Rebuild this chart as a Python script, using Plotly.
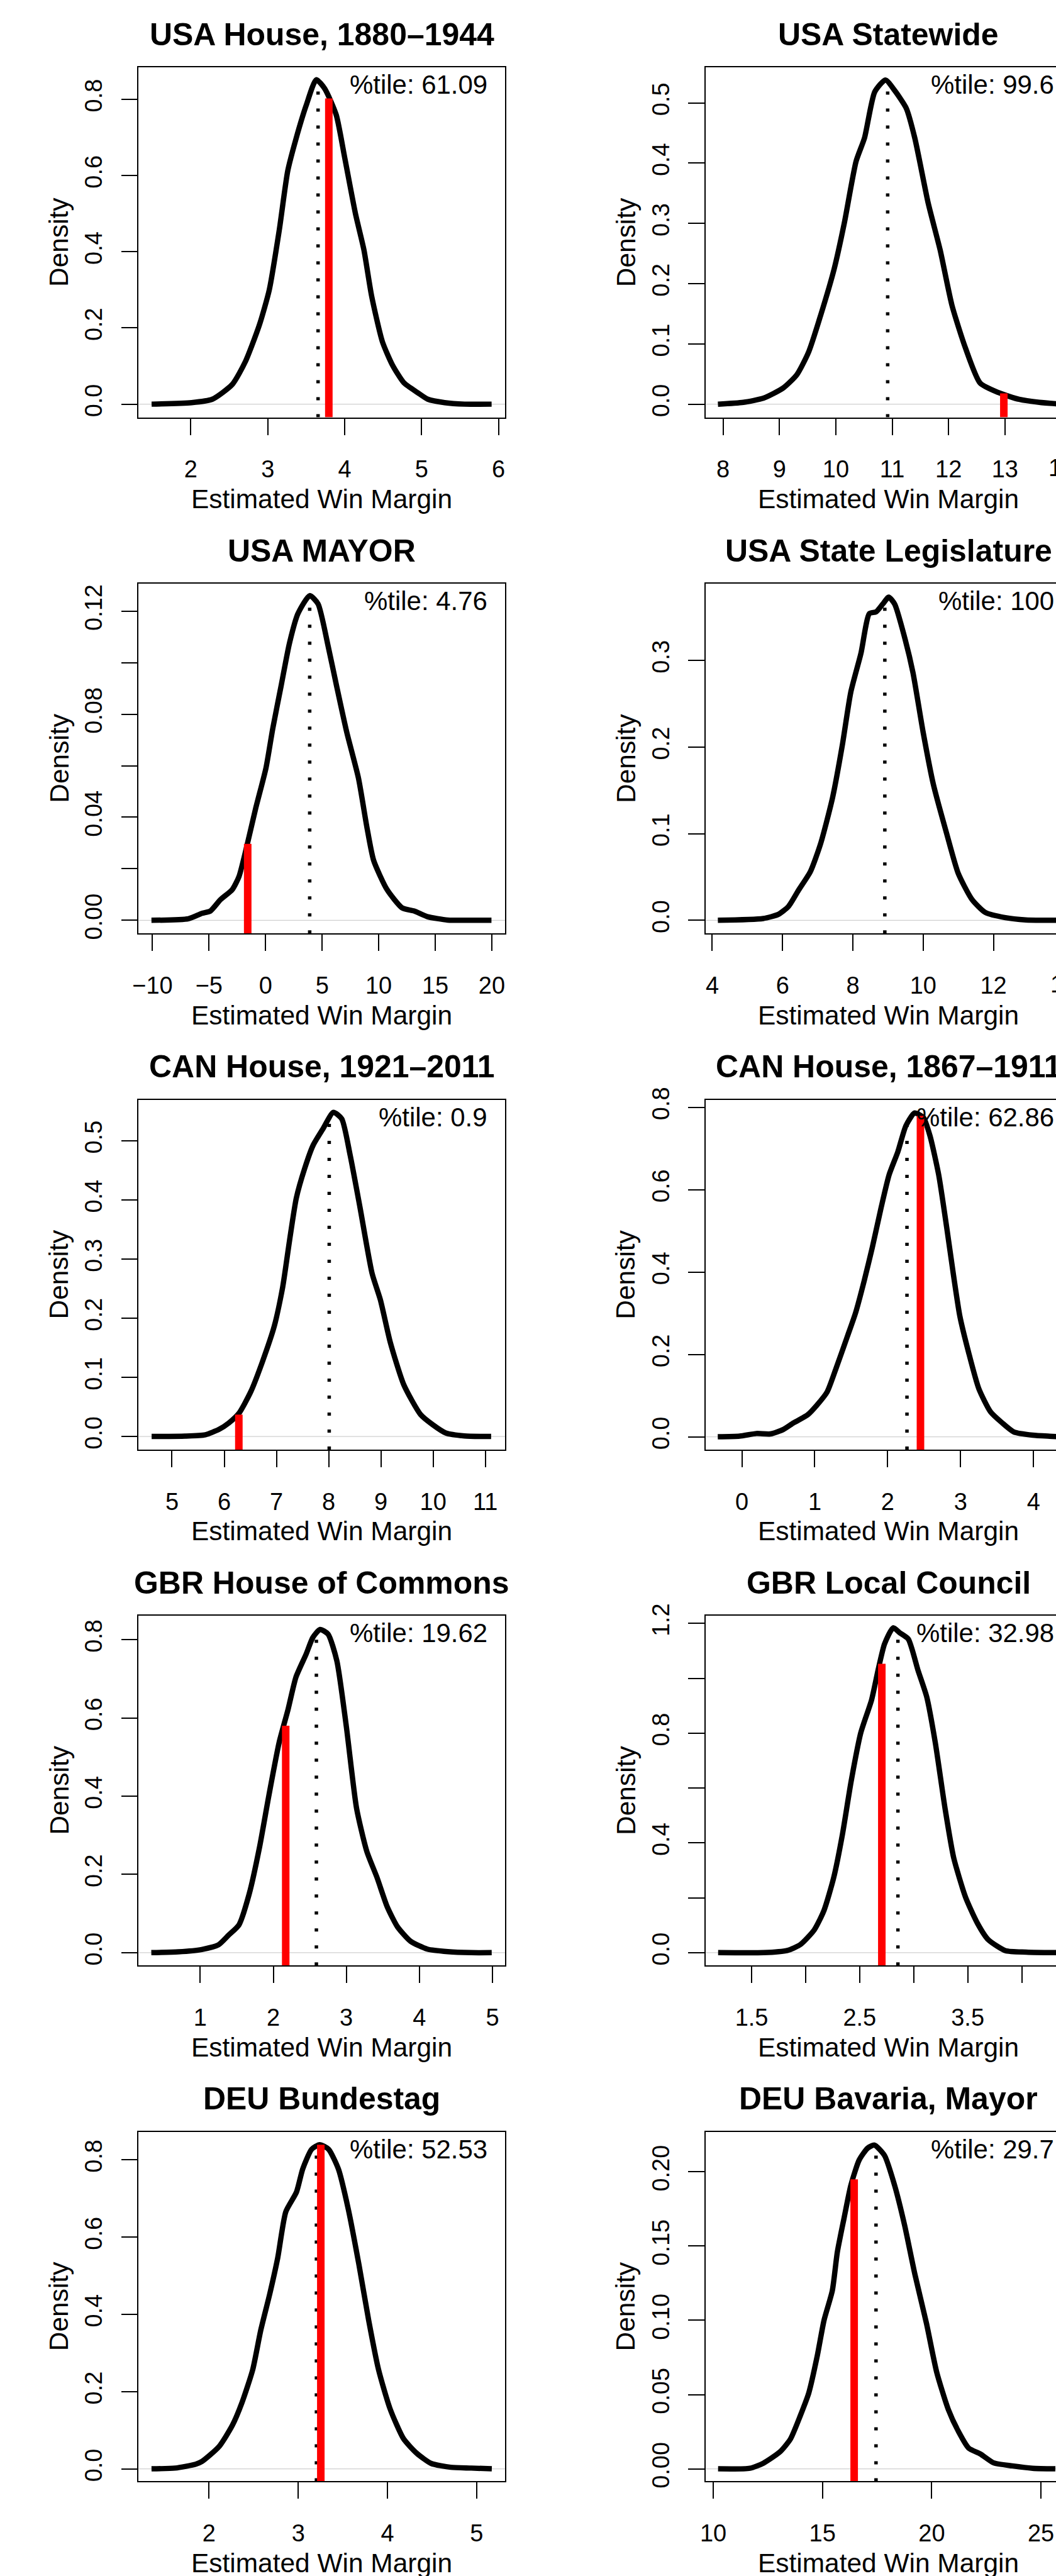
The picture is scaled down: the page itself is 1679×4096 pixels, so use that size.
import plotly.graph_objects as go

W, H = 1679, 4096
S = 0.999
FONT = "Liberation Sans, Arial, Helvetica, sans-serif"

# ---------------- data ----------------
titles = ["USA House, 1880–1944", "USA Statewide", "USA MAYOR", "USA State Legislature",
          "CAN House, 1921–2011", "CAN House, 1867–1911", "GBR House of Commons",
          "GBR Local Council", "DEU Bundestag", "DEU Bavaria, Mayor"]
pct_labels = ["61.09", "99.6", "4.76", "100", "0.9", "62.86", "19.62", "32.98", "52.53", "29.7"]

usa_house_x = [1.49, 2.01, 2.28, 2.54, 2.71, 2.89, 3.02, 3.15, 3.26, 3.37, 3.50, 3.63, 3.74, 3.89, 4.00,
               4.14, 4.25, 4.35, 4.49, 4.62, 4.77, 4.95, 5.08, 5.30, 5.56, 5.91]
usa_house_y = [0.000, 0.004, 0.013, 0.052, 0.112, 0.207, 0.300, 0.457, 0.612, 0.698, 0.784, 0.851, 0.828,
               0.759, 0.647, 0.500, 0.405, 0.284, 0.164, 0.103, 0.056, 0.030, 0.013, 0.004, 0.000, 0.000]

usa_state_x = [7.91, 8.36, 8.72, 9.07, 9.31, 9.52, 9.73, 9.97, 10.15, 10.36, 10.51, 10.69, 10.88, 11.04,
               11.25, 11.40, 11.64, 11.85, 12.06, 12.30, 12.56, 12.89, 13.25, 13.61, 13.94]
usa_state_y = [0.000, 0.003, 0.010, 0.027, 0.049, 0.087, 0.147, 0.224, 0.300, 0.403, 0.442, 0.518, 0.538,
               0.521, 0.491, 0.442, 0.333, 0.256, 0.164, 0.093, 0.035, 0.019, 0.008, 0.003, 0.0005]

usa_mayor_x = [-10.09, -6.82, -5.63, -4.88, -3.99, -2.95, -2.35, -1.61, -0.86, 0.03, 0.63, 1.37, 2.11, 2.86,
               3.90, 4.64, 5.54, 6.28, 7.17, 8.21, 8.96, 9.55, 10.74, 12.08, 13.13, 14.32, 16.10, 18.18, 19.97]
usa_mayor_y = [0, 0.0006, 0.0027, 0.0036, 0.0080, 0.0119, 0.0170, 0.0297, 0.0437, 0.0590, 0.0743, 0.0909,
               0.1075, 0.1190, 0.1260, 0.1228, 0.1062, 0.0909, 0.0731, 0.0552, 0.0361, 0.0233, 0.0119,
               0.0048, 0.0036, 0.0014, 0.0001, 0, 0]

usa_leg_x = [4.16, 5.45, 5.89, 6.17, 6.46, 6.79, 7.08, 7.42, 7.70, 7.94, 8.23, 8.47, 8.66, 8.85, 9.02, 9.19,
             9.47, 9.71, 10.00, 10.29, 10.67, 11.00, 11.39, 11.77, 12.34, 12.92, 13.40, 13.83]
usa_leg_y = [0, 0.002, 0.007, 0.016, 0.035, 0.056, 0.088, 0.141, 0.202, 0.263, 0.308, 0.354, 0.356, 0.365,
             0.373, 0.365, 0.327, 0.286, 0.217, 0.157, 0.100, 0.054, 0.024, 0.009, 0.003, 0.0004, 0, 0]

can_1921_x = [4.61, 5.25, 5.64, 5.90, 6.09, 6.28, 6.51, 6.73, 6.96, 7.12, 7.25, 7.38, 7.54, 7.70, 7.89, 8.09,
              8.25, 8.41, 8.60, 8.83, 8.99, 9.18, 9.44, 9.76, 9.99, 10.24, 10.60, 11.11]
can_1921_y = [0, 0.0006, 0.003, 0.012, 0.023, 0.039, 0.076, 0.126, 0.187, 0.253, 0.331, 0.403, 0.453, 0.492,
              0.520, 0.548, 0.537, 0.476, 0.387, 0.276, 0.231, 0.159, 0.087, 0.037, 0.020, 0.006, 0.001, 0]

can_1867_x = [-0.33, -0.03, 0.20, 0.39, 0.57, 0.71, 0.90, 1.03, 1.17, 1.29, 1.45, 1.56, 1.68, 1.79, 1.91, 2.02,
              2.14, 2.25, 2.37, 2.49, 2.58, 2.70, 2.81, 2.90, 2.99, 3.11, 3.25, 3.41, 3.57, 3.73, 3.99, 4.26, 4.34]
can_1867_y = [0, 0.0016, 0.008, 0.007, 0.018, 0.034, 0.053, 0.077, 0.109, 0.165, 0.245, 0.301, 0.380, 0.460,
              0.556, 0.636, 0.692, 0.755, 0.786, 0.775, 0.731, 0.636, 0.508, 0.396, 0.293, 0.205, 0.117, 0.061,
              0.034, 0.012, 0.004, 0.001, 0]

gbr_commons_x = [0.33, 0.70, 1.02, 1.25, 1.39, 1.53, 1.67, 1.81, 1.94, 2.08, 2.20, 2.31, 2.45, 2.54, 2.64, 2.75,
                 2.87, 3.00, 3.14, 3.28, 3.42, 3.56, 3.70, 3.88, 4.11, 4.39, 4.71, 4.99]
gbr_commons_y = [0, 0.002, 0.008, 0.020, 0.045, 0.071, 0.150, 0.268, 0.402, 0.537, 0.620, 0.704, 0.763, 0.805,
                 0.826, 0.814, 0.746, 0.578, 0.369, 0.259, 0.192, 0.117, 0.066, 0.029, 0.009, 0.0025, 0, 0]

gbr_local_x = [1.19, 1.61, 1.83, 1.95, 2.08, 2.17, 2.26, 2.34, 2.42, 2.51, 2.61, 2.67, 2.73, 2.81, 2.87, 2.95,
               3.04, 3.12, 3.20, 3.29, 3.37, 3.48, 3.59, 3.69, 3.85, 4.04, 4.29, 4.34]
gbr_local_y = [0, 0, 0.008, 0.029, 0.083, 0.154, 0.274, 0.430, 0.622, 0.801, 0.921, 1.029, 1.125, 1.184, 1.166,
               1.143, 1.029, 0.933, 0.765, 0.526, 0.346, 0.202, 0.107, 0.047, 0.007, 0.002, 0, 0]

deu_bund_x = [1.355, 1.62, 1.85, 1.92, 2.11, 2.26, 2.37, 2.49, 2.58, 2.68, 2.77, 2.86, 2.98, 3.05, 3.15, 3.24,
              3.34, 3.45, 3.56, 3.68, 3.79, 3.90, 4.03, 4.18, 4.33, 4.49, 4.71, 4.94, 5.17]
deu_bund_y = [0, 0.002, 0.012, 0.019, 0.057, 0.112, 0.172, 0.257, 0.359, 0.452, 0.546, 0.665, 0.716, 0.776,
              0.827, 0.839, 0.827, 0.776, 0.673, 0.529, 0.384, 0.257, 0.155, 0.078, 0.040, 0.014, 0.004, 0.002, 0]

deu_bav_x = [10.22, 11.68, 12.29, 13.06, 13.53, 13.99, 14.37, 14.76, 15.07, 15.45, 15.68, 15.99, 16.30, 16.68,
             17.07, 17.38, 17.84, 18.30, 18.76, 19.23, 19.76, 20.23, 20.76, 21.23, 21.69, 22.23, 22.84, 23.69,
             24.62, 25.66]
deu_bav_y = [0, 0.0004, 0.0038, 0.0115, 0.020, 0.036, 0.051, 0.076, 0.100, 0.120, 0.146, 0.169, 0.191, 0.208,
             0.216, 0.218, 0.211, 0.191, 0.164, 0.131, 0.098, 0.065, 0.040, 0.025, 0.014, 0.010, 0.004, 0.002,
             0.0004, 0]

curves_x = [usa_house_x, usa_state_x, usa_mayor_x, usa_leg_x, can_1921_x, can_1867_x,
            gbr_commons_x, gbr_local_x, deu_bund_x, deu_bav_x]
curves_y = [usa_house_y, usa_state_y, usa_mayor_y, usa_leg_y, can_1921_y, can_1867_y,
            gbr_commons_y, gbr_local_y, deu_bund_y, deu_bav_y]

center_x = [3.654, 10.92, 3.90, 8.91, 8.01, 2.265, 2.59, 2.854, 3.204, 17.45]
center_top = [0.84, 0.535, 0.126, 0.367, 0.535, 0.76, 0.82, 1.17, 0.835, 0.217]
observed_x = [3.794, 12.98, -1.58, None, 6.28, 2.45, 2.17, 2.705, 3.253, 16.45]
observed_top = [0.802, 0.018, 0.0297, None, 0.037, 0.779, 0.58, 1.053, 0.839, 0.195]

# axis scales (visible portion)
x_ranges = [[1.322, 6.083], [7.690, 13.905], [-11.22, 21.16], [3.809, 13.78], [4.362, 11.374],
            [-0.498, 4.309], [0.157, 5.171], [1.0735, 4.317], [1.211, 5.317], [9.646, 25.69]]
y_ranges = [[-0.0345, 0.8836], [-0.0218, 0.5589], [-0.0051, 0.1307], [-0.0152, 0.3887], [-0.0222, 0.5694],
            [-0.0311, 0.8183], [-0.0327, 0.8615], [-0.0467, 1.2287], [-0.0323, 0.8724], [-0.0084, 0.2270]]

x_tickvals = [[2, 3, 4, 5, 6], [8, 9, 10, 11, 12, 13], [-10, -5, 0, 5, 10, 15, 20], [4, 6, 8, 10, 12],
              [5, 6, 7, 8, 9, 10, 11], [0, 1, 2, 3, 4], [1, 2, 3, 4, 5], [1.5, 2, 2.5, 3, 3.5, 4],
              [2, 3, 4, 5], [10, 15, 20, 25]]
x_ticktext = [["2", "3", "4", "5", "6"], ["8", "9", "10", "11", "12", "13"],
              ["\u221210", "\u22125", "0", "5", "10", "15", "20"], ["4", "6", "8", "10", "12"],
              ["5", "6", "7", "8", "9", "10", "11"], ["0", "1", "2", "3", "4"], ["1", "2", "3", "4", "5"],
              ["1.5", "", "2.5", "", "3.5", ""], ["2", "3", "4", "5"], ["10", "15", "20", "25"]]
y_tickvals = [[0, 0.2, 0.4, 0.6, 0.8], [0, 0.1, 0.2, 0.3, 0.4, 0.5], [0, 0.02, 0.04, 0.06, 0.08, 0.10, 0.12],
              [0, 0.1, 0.2, 0.3], [0, 0.1, 0.2, 0.3, 0.4, 0.5], [0, 0.2, 0.4, 0.6, 0.8], [0, 0.2, 0.4, 0.6, 0.8],
              [0, 0.2, 0.4, 0.6, 0.8, 1.0, 1.2], [0, 0.2, 0.4, 0.6, 0.8], [0, 0.05, 0.10, 0.15, 0.20]]
y_ticktext = [["0.0", "0.2", "0.4", "0.6", "0.8"], ["0.0", "0.1", "0.2", "0.3", "0.4", "0.5"],
              ["0.00", "", "0.04", "", "0.08", "", "0.12"], ["0.0", "0.1", "0.2", "0.3"],
              ["0.0", "0.1", "0.2", "0.3", "0.4", "0.5"], ["0.0", "0.2", "0.4", "0.6", "0.8"],
              ["0.0", "0.2", "0.4", "0.6", "0.8"], ["0.0", "", "0.4", "", "0.8", "", "1.2"],
              ["0.0", "0.2", "0.4", "0.6", "0.8"], ["0.00", "0.05", "0.10", "0.15", "0.20"]]
# tick labels that fall partly past the right edge of the picture
partial_ticks = {1: (14, "14"), 3: (14, "14")}

# ---------------- layout geometry (reference pixels) ----------------
col_left = [220.7, 1122.9]
col_right = [803.6, 1705.8]
row_top = [107.2, 928.8, 1750.3, 2571.4, 3393.0]
row_bot = [664.2, 1485.7, 2307.3, 3128.3, 3949.4]


def px(xr):
    return xr * S / W


def py(yr):
    return 1 - yr * S / H


TICK_STANDOFF_X = 22
TICK_STANDOFF_Y = 15

fig = go.Figure()
annotations = []
shapes = []

for i in range(10):
    r, c = divmod(i, 2)
    n = "" if i == 0 else str(i + 1)
    xa, ya = "x" + n, "y" + n
    xdom = [px(col_left[c]), min(1.0, px(col_right[c]))]
    ydom = [py(row_bot[r]), py(row_top[r])]
    xr, yr = x_ranges[i], y_ranges[i]

    fig.layout["xaxis" + n] = dict(
        domain=xdom, range=xr, anchor=ya, tickvals=x_tickvals[i], ticktext=x_ticktext[i],
        ticks="outside", ticklen=26 * S, tickwidth=2, tickcolor="black",
        showline=True, linecolor="black", linewidth=2, mirror=True,
        showgrid=False, zeroline=False, fixedrange=True,
        tickfont=dict(family=FONT, size=38 * S, color="black"),
        ticklabelstandoff=TICK_STANDOFF_X, automargin=False)
    fig.layout["yaxis" + n] = dict(
        domain=ydom, range=yr, anchor=xa, tickvals=y_tickvals[i], ticktext=y_ticktext[i],
        ticks="outside", ticklen=26 * S, tickwidth=2, tickcolor="black",
        showline=True, linecolor="black", linewidth=2, mirror=(c == 0),
        showgrid=False, zeroline=False, fixedrange=True, tickangle=-90,
        tickfont=dict(family=FONT, size=38 * S, color="black"),
        ticklabelstandoff=TICK_STANDOFF_Y, automargin=False)

    # grey zero line
    shapes.append(dict(type="line", xref=xa + " domain", yref=ya, x0=0, x1=1, y0=0, y1=0,
                       line=dict(color="#d0d0d0", width=1.3), layer="below"))

    fig.add_trace(go.Scatter(x=curves_x[i], y=curves_y[i], mode="lines", xaxis=xa, yaxis=ya,
                             line=dict(color="black", width=8.5 * S, shape="spline", smoothing=0.6),
                             hoverinfo="skip", showlegend=False))
    fig.add_trace(go.Scatter(x=[center_x[i], center_x[i]], y=[yr[0], center_top[i]], mode="lines",
                             xaxis=xa, yaxis=ya,
                             line=dict(color="black", width=5.5, dash="5px,22px"),
                             hoverinfo="skip", showlegend=False))
    if observed_x[i] is not None:
        fig.add_trace(go.Scatter(x=[observed_x[i], observed_x[i]], y=[yr[0], observed_top[i]], mode="lines",
                                 xaxis=xa, yaxis=ya, line=dict(color="#ff0000", width=12 * S),
                                 hoverinfo="skip", showlegend=False))

    cx = (col_left[c] + col_right[c]) / 2
    annotations.append(dict(text="<b>" + titles[i] + "</b>", xref="paper", yref="paper",
                            x=px(cx), y=py(row_top[r] - 52.3), xanchor="center", yanchor="middle",
                            showarrow=False, font=dict(family=FONT, size=50 * S, color="black")))
    annotations.append(dict(text="Estimated Win Margin", xref="paper", yref="paper",
                            x=px(cx), y=py(row_bot[r] + 130), xanchor="center", yanchor="middle",
                            showarrow=False, font=dict(family=FONT, size=42.5 * S, color="black")))
    annotations.append(dict(text="Density", xref="paper", yref="paper", textangle=-90,
                            x=px(col_left[c] - 127), y=py((row_top[r] + row_bot[r]) / 2),
                            xanchor="center", yanchor="middle",
                            showarrow=False, font=dict(family=FONT, size=42.5 * S, color="black")))
    annotations.append(dict(text="%tile: " + pct_labels[i], xref="paper", yref="paper",
                            x=px(col_right[c] - 25.7), y=py(row_top[r] + 27.7), xanchor="right",
                            yanchor="middle", showarrow=False,
                            font=dict(family=FONT, size=42 * S, color="black")))
    if i in partial_ticks:
        v, t = partial_ticks[i]
        xp = xdom[0] + (v - xr[0]) / (xr[1] - xr[0]) * (xdom[1] - xdom[0])
        annotations.append(dict(text=t, xref="paper", yref="paper", x=xp, y=py(row_bot[r] + 81),
                                xanchor="center", yanchor="middle", showarrow=False,
                                font=dict(family=FONT, size=38 * S, color="black")))

fig.update_layout(width=W, height=H, margin=dict(l=0, r=0, t=0, b=0),
                  paper_bgcolor="white", plot_bgcolor="white",
                  annotations=annotations, shapes=shapes, showlegend=False)
fig.write_html("out.html")
